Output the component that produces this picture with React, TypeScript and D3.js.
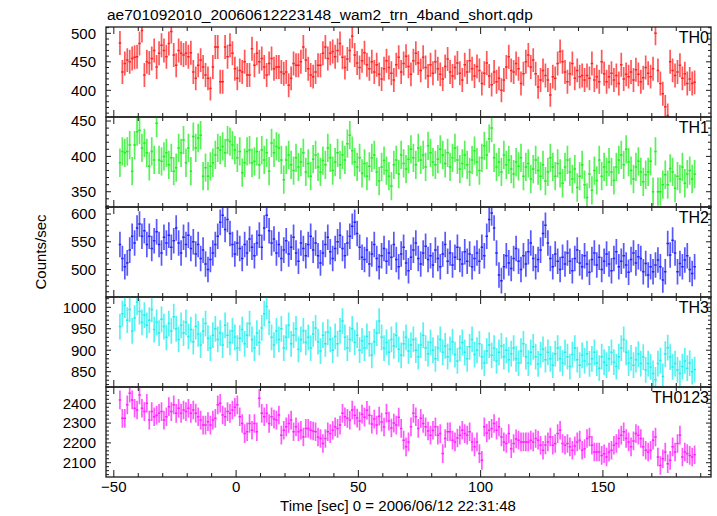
import React from "react";
import * as d3 from "d3";

const TITLE = "ae701092010_20060612223148_wam2_trn_4band_short.qdp";
const X_LABEL = "Time [sec] 0 = 2006/06/12 22:31:48";
const Y_LABEL = "Counts/sec";
const PANEL_NAMES = ["TH0", "TH1", "TH2", "TH3", "TH0123"];
const T_START = -47.5; // center of first 1-s bin

const TH0 = [
  483, 432, 447, 453, 450, 456, 458, 459, 482, 505,
  427, 450, 448, 456, 470, 441, 465, 479, 470, 459,
  482, 503, 462, 444, 470, 465, 462, 465, 459, 466,
  432, 421, 444, 453, 441, 427, 421, 403, 441, 476,
  476, 415, 415, 476, 459, 479, 465, 438, 421, 435,
  432, 450, 427, 427, 473, 444, 465, 450, 456, 441,
  427, 447, 456, 438, 441, 441, 432, 429, 432, 409,
  421, 447, 444, 444, 450, 476, 453, 438, 427, 424,
  432, 444, 444, 465, 476, 456, 465, 468, 459, 470,
  482, 458, 440, 455, 470, 495, 462, 448, 440, 452,
  466, 445, 438, 450, 432, 445, 428, 420, 438, 452,
  440, 430, 418, 445, 458, 432, 447, 460, 442, 428,
  452, 465, 448, 435, 458, 440, 425, 445, 430, 450,
  438, 428, 420, 442, 455, 432, 425, 440, 448, 430,
  418, 445, 432, 452, 438, 425, 442, 435, 412, 430,
  448, 425, 410, 432, 415, 421, 400, 418, 441, 459,
  435, 432, 447, 438, 412, 429, 450, 462, 441, 453,
  429, 406, 418, 435, 426, 418, 392, 424, 421, 447,
  468, 450, 432, 415, 429, 447, 421, 435, 424, 426,
  418, 426, 421, 447, 418, 424, 415, 450, 429, 415,
  424, 430, 418, 426, 412, 445, 420, 428, 424, 432,
  418, 436, 428, 415, 422, 440, 430, 424, 438, 500,
  435, 412, 394, 371, 356, 450, 435, 426, 432, 444,
  421, 429, 412, 420, 412, 414,
];

const TH1 = [
  391, 407, 405, 407, 416, 379, 416, 435, 437, 412,
  419, 405, 386, 407, 395, 447, 395, 393, 400, 405,
  388, 398, 379, 384, 412, 405, 423, 391, 412, 379,
  428, 412, 426, 430, 372, 384, 372, 386, 391, 402,
  412, 409, 414, 405, 423, 421, 416, 409, 398, 407,
  377, 391, 407, 409, 391, 393, 407, 388, 409, 395,
  405, 379, 419, 405, 414, 412, 395, 367, 395, 402,
  388, 380, 398, 385, 392, 405, 378, 390, 372, 396,
  402, 385, 378, 394, 388, 412, 398, 380, 392, 405,
  388, 402, 395, 418, 430, 408, 392, 385, 398, 376,
  390, 372, 386, 398, 402, 378, 365, 385, 394, 380,
  372, 358, 388, 395, 375, 402, 390, 382, 396, 410,
  398, 388, 412, 395, 402, 385, 415, 405, 392, 388,
  396, 410, 402, 390, 405, 385, 398, 412, 395, 382,
  390, 402, 388, 378, 395, 408, 392, 380, 398, 415,
  402, 425, 440, 398, 385, 392, 378, 402, 388, 395,
  382, 375, 392, 386, 398, 372, 385, 390, 368, 382,
  395, 380, 372, 388, 365, 378, 398, 385, 372, 390,
  376, 362, 385, 395, 378, 368, 382, 356, 372, 388,
  360, 342, 375, 352, 380, 366, 395, 372, 385, 378,
  392, 378, 366, 385, 395, 402, 388, 410, 392, 380,
  368, 385, 393, 378, 364, 374, 378, 393, 350, 407,
  350, 350, 360, 374, 360, 383, 378, 355, 372, 368,
  385, 362, 375, 380, 368, 375,
];

const TH2 = [
  545, 520, 505, 512, 535, 560, 548, 575, 582, 560,
  570, 545, 560, 538, 552, 568, 545, 530, 558, 548,
  562, 540, 552, 575, 548, 530, 558, 545, 562, 538,
  550, 528, 545, 520, 535, 510, 500, 518, 530, 545,
  560, 585, 598, 572, 590, 565, 545, 528, 548, 538,
  520, 545, 530, 555, 540, 525, 548, 562, 540, 575,
  598, 570, 548, 555, 530, 545, 520, 535, 552, 528,
  540, 558, 530, 515, 548, 538, 525, 545, 560, 535,
  548, 525, 512, 530, 545, 558, 532, 520, 538, 550,
  562, 538, 525, 548, 560, 578, 585, 565, 540, 522,
  518, 535, 510, 528, 545, 520, 505, 525, 538, 515,
  530, 522, 545, 518, 505, 528, 540, 512, 498, 522,
  535, 548, 520, 510, 530, 542, 518, 525, 508, 535,
  520, 505, 528, 545, 515, 530, 508, 522, 540, 518,
  510, 532, 515, 528, 505, 520, 530, 515, 540, 525,
  560, 590, 602, 575, 530, 490, 480, 505, 525, 512,
  502, 520, 538, 515, 500, 525, 510, 532, 548, 520,
  505, 518, 535, 565, 580, 548, 520, 505, 528, 515,
  500, 522, 510, 530, 515, 498, 520, 535, 512, 505,
  525, 510, 495, 518, 530, 508, 522, 500, 515, 528,
  510, 498, 520, 532, 505, 515, 525, 508, 495, 518,
  530, 512, 523, 520, 496, 511, 490, 505, 496, 508,
  517, 505, 481, 496, 547, 526, 553, 530, 496, 511,
  505, 517, 525, 500, 493, 505,
];

const TH3 = [
  955, 985, 1005, 970, 995, 945, 975, 1012, 990, 965,
  982, 958, 970, 995, 948, 965, 940, 972, 955, 930,
  962, 945, 978, 950, 925, 958, 940, 965, 932, 948,
  920, 955, 938, 912, 945, 962, 928, 905, 935, 950,
  925, 940, 912, 958, 935, 918, 945, 930, 905, 928,
  948, 915, 935, 962, 925, 905, 940, 918, 952, 985,
  1002, 965, 930, 912, 945, 925, 950, 905, 930, 958,
  915, 935, 950, 902, 925, 945, 918, 930, 905, 938,
  952, 920, 898, 935, 915, 942, 925, 900, 932, 915,
  945, 968, 930, 905, 925, 950, 918, 935, 900, 922,
  905, 932, 915, 888, 920, 940, 968, 930, 905, 918,
  895, 925, 910, 935, 902, 888, 915, 930, 898, 912,
  925, 900, 885, 912, 935, 905, 892, 918, 900, 880,
  905, 925, 895, 910, 885, 902, 920, 890, 875, 905,
  918, 895, 880, 908, 925, 890, 900, 915, 885, 870,
  898, 912, 888, 905, 875, 895, 910, 885, 900, 878,
  892, 905, 880, 870, 898, 915, 885, 870, 895, 908,
  885, 868, 890, 902, 878, 895, 880, 865, 892, 905,
  880, 870, 895, 885, 862, 890, 905, 878, 865, 888,
  875, 892, 868, 880, 895, 870, 858, 885, 872, 865,
  880, 895, 872, 862, 885, 905, 925, 895, 870, 882,
  865, 878, 891, 869, 884, 854, 869, 861, 846, 831,
  869, 876, 839, 891, 906, 884, 861, 869, 854, 846,
  862, 875, 858, 870, 850, 855,
];

const TH0123 = [
  2417, 2324, 2324, 2392, 2451, 2417, 2375, 2366, 2442, 2375, 2358, 2400, 2315, 2358, 2332, 2340,
  2349, 2358, 2315, 2332, 2383, 2358, 2392, 2349, 2375, 2349, 2366, 2358, 2375, 2349, 2366, 2350,
  2332, 2315, 2290, 2290, 2307, 2290, 2315, 2324, 2392, 2400, 2341, 2332, 2358, 2349, 2366, 2380,
  2392, 2332, 2298, 2247, 2256, 2298, 2264, 2298, 2256, 2425, 2349, 2332, 2349, 2298, 2332, 2320,
  2315, 2341, 2239, 2264, 2281, 2298, 2315, 2256, 2281, 2256, 2264, 2230, 2273, 2273, 2264, 2260,
  2256, 2230, 2222, 2197, 2222, 2256, 2247, 2264, 2281, 2273, 2290, 2349, 2332, 2324, 2315, 2366, 2340,
  2325, 2310, 2345, 2330, 2365, 2340, 2295, 2320, 2290, 2335, 2305, 2280, 2350, 2310, 2275, 2300, 2290, 2330,
  2273, 2214, 2180, 2205, 2281, 2349, 2332, 2273, 2324, 2298, 2281, 2260,
  2239, 2264, 2281, 2239, 2247, 2146, 2222, 2256, 2256, 2214, 2205, 2225,
  2239, 2264, 2247, 2239, 2256, 2205, 2180, 2205, 2146, 2112, 2281, 2250,
  2264, 2273, 2298, 2264, 2281, 2230, 2205, 2197, 2247, 2171, 2197, 2220,
  2214, 2205, 2205, 2205, 2205, 2214, 2205, 2222, 2214, 2188, 2163, 2190,
  2205, 2230, 2188, 2197, 2247, 2264, 2197, 2188, 2197, 2180, 2163, 2185,
  2205, 2214, 2163, 2171, 2222, 2230, 2188, 2154, 2154, 2154, 2137, 2145,
  2129, 2154, 2163, 2188, 2197, 2222, 2239, 2256, 2222, 2205, 2180, 2210,
  2247, 2239, 2222, 2180, 2163, 2154, 2163, 2214, 2230, 2129, 2086, 2120,
  2154, 2095, 2112, 2180, 2154, 2197, 2239, 2129, 2154, 2146, 2137, 2129, 2140,
];

const SERIES = [TH0, TH1, TH2, TH3, TH0123];
const ERRS = [21, 20, 23, 30, 47];
const Y_DOMAINS: [number, number][] = [
  [353.2, 511.1],
  [328.4, 455.7],
  [450.5, 612.7],
  [814.3, 1024],
  [2028, 2482],
];
const Y_MAJOR = [50, 50, 50, 50, 100];
const Y_MINOR = [10, 10, 10, 10, 20];
const X_DOMAIN: [number, number] = [-53.2, 194.2];
const X_MAJOR = [-50, 0, 50, 100, 150];
const X_MINOR_STEP = 10;
const COLORS = ["#ff2020", "#20ee20", "#2020ff", "#20eeee", "#ff20ff"];

const W = 717;
const H = 516;
const LEFT = 106;
const RIGHT = 711;
const TOP = 27;
const PANEL_H = 90;
const FONT = "'Liberation Sans', Arial, Helvetica, sans-serif";
const AXIS = "#1a1a1a";

function fmt(v: number) {
  return v < 0 ? "\u2212" + Math.abs(v) : String(v);
}

export default function App() {
  const x = d3.scaleLinear().domain(X_DOMAIN).range([LEFT, RIGHT]);
  const xMinor = d3.range(-50, 191, X_MINOR_STEP);
  const nP = SERIES.length;
  const bottom = TOP + nP * PANEL_H;

  return (
    <svg
      width={W}
      height={H}
      style={{ position: "absolute", left: 0, top: 0, background: "#fff" }}
      fontFamily={FONT}
    >
      <rect x={0} y={0} width={W} height={H} fill="#fff" />
      <text x={107} y={20} fontSize={15.5} fill="#000">
        {TITLE}
      </text>
      {SERIES.map((vals, p) => {
        const y0 = TOP + p * PANEL_H;
        const y = d3
          .scaleLinear()
          .domain(Y_DOMAINS[p])
          .range([y0 + PANEL_H, y0]);
        const e = ERRS[p];
        const [lo, hi] = Y_DOMAINS[p];
        const minorTicks = d3.range(Math.ceil(lo / Y_MINOR[p]) * Y_MINOR[p], hi, Y_MINOR[p]);
        const majorTicks = minorTicks.filter((v) => Math.abs(v % Y_MAJOR[p]) < 1e-9);
        let errPath = "";
        let binPath = "";
        vals.forEach((v, i) => {
          const t = T_START + i;
          const xc = x(t);
          errPath += `M${xc},${y(v - e)}V${y(v + e)}`;
          binPath += `M${x(t - 0.5)},${y(v)}H${x(t + 0.5)}`;
        });
        const clipId = `clip${p}`;
        return (
          <g key={p}>
            <clipPath id={clipId}>
              <rect x={LEFT} y={y0} width={RIGHT - LEFT} height={PANEL_H} />
            </clipPath>
            <g clipPath={`url(#${clipId})`}>
              <path d={errPath} stroke={COLORS[p]} strokeWidth={1.7} fill="none" opacity={0.75} />
              <path d={binPath} stroke={COLORS[p]} strokeWidth={1.5} fill="none" />
            </g>
            {minorTicks.map((v) => {
              const major = majorTicks.includes(v);
              const len = major ? 5 : 3;
              const yy = y(v);
              return (
                <g key={v}>
                  <line x1={LEFT} x2={LEFT + len} y1={yy} y2={yy} stroke={AXIS} strokeWidth={1} />
                  <line x1={RIGHT} x2={RIGHT - len} y1={yy} y2={yy} stroke={AXIS} strokeWidth={1} />
                </g>
              );
            })}
            {majorTicks.map((v) => (
              <text
                key={"l" + v}
                x={96}
                y={y(v)}
                dy="0.36em"
                textAnchor="end"
                fontSize={15}
                fill="#000"
              >
                {v}
              </text>
            ))}
            {xMinor.map((t) => {
              const major = X_MAJOR.includes(t);
              const len = major ? 7 : 4;
              const xx = x(t);
              return (
                <g key={"x" + t}>
                  <line x1={xx} x2={xx} y1={y0} y2={y0 + len} stroke={AXIS} strokeWidth={1} />
                  <line
                    x1={xx}
                    x2={xx}
                    y1={y0 + PANEL_H}
                    y2={y0 + PANEL_H - len}
                    stroke={AXIS}
                    strokeWidth={1}
                  />
                </g>
              );
            })}
            <rect
              x={LEFT}
              y={y0}
              width={RIGHT - LEFT}
              height={PANEL_H}
              fill="none"
              stroke={AXIS}
              strokeWidth={1.3}
            />
            <text x={709} y={y0 + 16} textAnchor="end" fontSize={16} fill="#000">
              {PANEL_NAMES[p]}
            </text>
          </g>
        );
      })}
      {X_MAJOR.map((t) => (
        <text key={t} x={x(t)} y={bottom + 15} textAnchor="middle" fontSize={15} fill="#000">
          {fmt(t)}
        </text>
      ))}
      <text x={398} y={511} textAnchor="middle" fontSize={15} fill="#000">
        {X_LABEL}
      </text>
      <text
        transform={`translate(46,252) rotate(-90)`}
        textAnchor="middle"
        fontSize={15}
        fill="#000"
      >
        {Y_LABEL}
      </text>
    </svg>
  );
}
